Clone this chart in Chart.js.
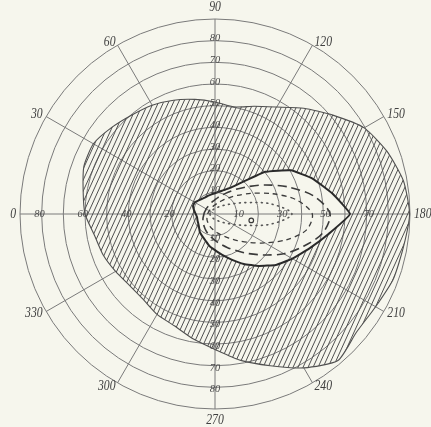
<!DOCTYPE html>
<html>
<head>
<meta charset="utf-8">
<script src="https://cdn.jsdelivr.net/npm/chart.js@4.4.1/dist/chart.umd.min.js"></script>
<style>
  html, body { margin: 0; padding: 0; background: #f6f6ed; }
  #wrap { width: 431px; height: 427px; position: relative; }
</style>
</head>
<body>
<div id="wrap"><canvas id="c"></canvas></div>
<script>
// ---- data (meridian in degrees, eccentricity in degrees) ----
const meridians = [0,10,20,30,40,50,60,70,80,90,100,110,120,130,140,150,160,170,
                   180,190,200,210,220,230,240,250,260,270,280,290,300,310,320,330,340,350];
const meridianLabels = [0,30,60,90,120,150,180,210,240,270,300,330];
const fullMeridians = [0,30,90,180,210,270];

// outer limit of the hatched field
const fieldBoundary = [60,61.8,64.4,64.8,62.2,59.7,58,55.9,53.7,51.7,50.2,52.9,57,63.7,71,79.5,84.5,88.3,
                       89.8,88.3,87.6,85.6,85.1,88.3,82,74.5,68.6,62.5,58.5,54.9,53.5,51.5,51.4,53,55,56.5];
// solid outline of the clear central area
const centralArea = [8.9,9.8,10.8,10.8,9.8,9.2,8.9,9.0,9.2,9.6,10.4,11.7,13.9,18.9,30.3,40.4,47.9,54.9,
                     62.3,53.2,46.4,41.2,36.6,31.3,26.6,22.4,19.2,16.7,15.0,13.0,11.8,10.9,9.6,8.9,8.6,8.4];
// long-dash isopter
const isopterA = [5.1,4.9,4.7,4.7,4.7,4.8,5.0,5.4,5.9,6.6,7.7,9.2,11.5,14.8,19.6,26.8,36.3,46.6,
                  53.1,50.5,43.5,36.7,29.4,23.8,19.5,16.4,14.0,12.2,10.7,9.6,8.6,7.7,7.0,6.4,5.9,5.4];
// short-dash isopter
const isopterB = [3.4,3.2,3.1,3.0,3.0,3.1,3.2,3.5,3.8,4.2,4.9,5.9,7.4,9.7,13.3,19.0,27.6,38.0,
                  44.9,42.8,34.9,26.7,20.4,16.0,12.9,10.7,9.1,7.9,7.0,6.3,5.6,5.1,4.7,4.3,3.9,3.6];
// dotted isopter
const isopterC = [2.3,2.3,2.2,2.2,2.2,2.1,2.2,2.2,2.4,2.5,2.8,3.2,3.9,4.9,6.5,9.5,15.4,26.5,
                  35.5,26.5,15.4,9.5,6.5,4.9,3.9,3.2,2.8,2.5,2.4,2.2,2.2,2.1,2.2,2.2,2.2,2.3];
const spotMeridian = 190;
const spotEccentricity = 17;

const ringLabelsVertical = [10,20,30,40,50,60,70,80];
const ringLabelsLeft = [20,40,60,80];
const ringLabelsRight = [10,30,50,70];

// ---- styles ----
const BG = '#f6f6ed';
const INK = '#3a3a3a';
const GRID = '#7a7a7a';

function makeHatch() {
  const w = 5, h = 11;
  const t = document.createElement('canvas');
  t.width = w; t.height = h;
  const g = t.getContext('2d');
  g.strokeStyle = '#505050';
  g.lineWidth = 1;
  for (let k = -1; k <= 1; k++) {
    g.beginPath();
    g.moveTo(k * w, h);
    g.lineTo(k * w + w, 0);
    g.stroke();
  }
  return g.createPattern(t, 'repeat');
}

const spotData = meridians.map(m => (m === spotMeridian ? spotEccentricity : null));

function drawText(ctx, text, x, y, size, align, baseline, sx) {
  ctx.save();
  ctx.translate(x, y);
  ctx.scale(sx, 1);
  ctx.font = 'italic ' + size + 'px "Liberation Serif", "DejaVu Serif", serif';
  ctx.textAlign = align;
  ctx.textBaseline = baseline;
  ctx.fillText(text, 0, 0);
  ctx.restore();
}

const perimeterPlugin = {
  id: 'perimeter',
  beforeDatasetsDraw(chart) {
    const s = chart.scales.r;
    const ctx = chart.ctx;
    ctx.save();
    ctx.strokeStyle = GRID;
    ctx.lineWidth = 1;
    for (const m of meridianLabels) {
      const idx = meridians.indexOf(m);
      const inner = fullMeridians.includes(m) ? 0 : fieldBoundary[idx];
      const p1 = s.getPointPosition(idx, s.getDistanceFromCenterForValue(inner));
      const p2 = s.getPointPosition(idx, s.getDistanceFromCenterForValue(90));
      ctx.beginPath();
      ctx.moveTo(p1.x, p1.y);
      ctx.lineTo(p2.x, p2.y);
      ctx.stroke();
    }
    ctx.restore();
  },
  afterDatasetsDraw(chart) {
    const s = chart.scales.r;
    const ctx = chart.ctx;
    ctx.save();
    ctx.fillStyle = '#4a4a4a';
    const put = (m, v) => {
      const idx = meridians.indexOf(m);
      const p = s.getPointPosition(idx, s.getDistanceFromCenterForValue(v + 1));
      drawText(ctx, String(v), p.x, p.y, 11, 'center', 'middle', 0.95);
    };
    ringLabelsVertical.forEach(v => { put(90, v); put(270, v); });
    ringLabelsLeft.forEach(v => put(0, v));
    ringLabelsRight.forEach(v => put(180, v));

    ctx.fillStyle = '#404040';
    for (const m of meridianLabels) {
      const idx = meridians.indexOf(m);
      const p = s.getPointPosition(idx, s.drawingArea + 4);
      let align = 'right', base = 'middle';
      if (m === 90) { align = 'center'; base = 'bottom'; }
      else if (m === 270) { align = 'center'; base = 'top'; }
      else if (m > 90 && m < 270) { align = 'left'; }
      drawText(ctx, String(m), p.x, p.y, 15, align, base, 0.78);
    }
    ctx.restore();
  }
};

new Chart(document.getElementById('c'), {
  type: 'radar',
  data: {
    labels: meridians,
    datasets: [
      { data: fieldBoundary, fill: '+1', backgroundColor: makeHatch(), borderColor: '#505050',
        borderWidth: 1.1, tension: 0.2, pointRadius: 0, order: 1 },
      { data: centralArea, fill: false, borderColor: '#2a2a2a', borderWidth: 2,
        tension: 0.1, pointRadius: 0, order: 0 },
      { data: isopterA, fill: false, borderColor: INK, borderWidth: 1.6, borderDash: [9, 5],
        tension: 0.3, pointRadius: 0, order: 0 },
      { data: isopterB, fill: false, borderColor: INK, borderWidth: 1.3, borderDash: [5, 4],
        tension: 0.3, pointRadius: 0, order: 0 },
      { data: isopterC, fill: false, borderColor: '#555', borderWidth: 1.6, borderDash: [1, 4.5],
        borderCapStyle: 'round', tension: 0.35, pointRadius: 0, order: 0 },
      { data: spotData, showLine: false, pointRadius: 2.3, pointBorderWidth: 1.2,
        pointBorderColor: INK, pointBackgroundColor: BG, order: 0 }
    ]
  },
  options: {
    responsive: true,
    maintainAspectRatio: false,
    animation: false,
    layout: { padding: { left: 18, right: 18, top: 19, bottom: 17 } },
    plugins: { legend: { display: false }, tooltip: { enabled: false } },
    scales: {
      r: {
        min: 0, max: 90, startAngle: 270,
        ticks: { display: false, stepSize: 10 },
        grid: { circular: true, color: GRID, lineWidth: 1 },
        angleLines: { display: false },
        pointLabels: { display: false }
      }
    }
  },
  plugins: [perimeterPlugin]
});
</script>
</body>
</html>
